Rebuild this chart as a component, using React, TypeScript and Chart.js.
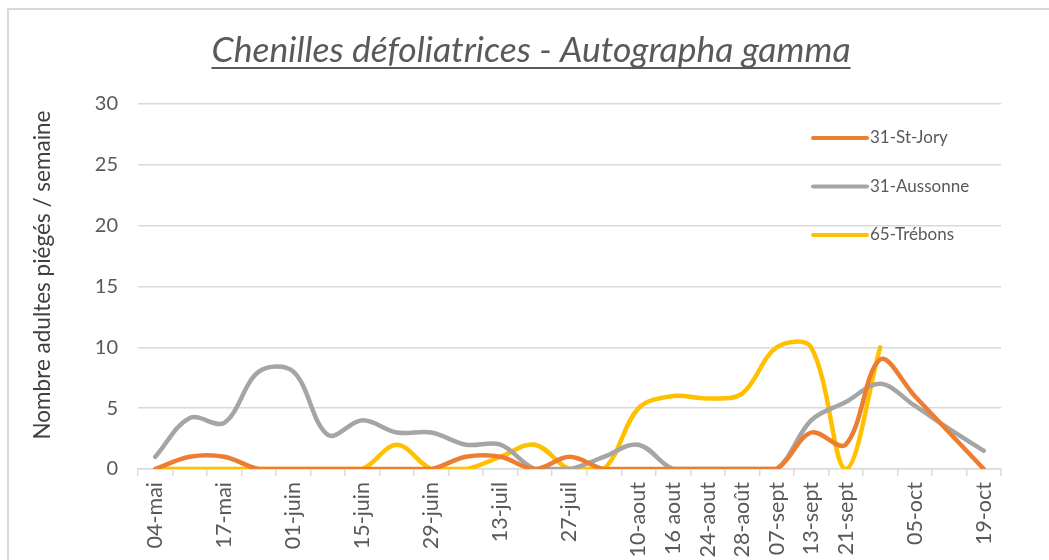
import { useEffect, useRef } from 'react';
import { Chart, registerables } from 'chart.js';

Chart.register(...registerables);

const categories = [
  '04-mai', '', '17-mai', '', '01-juin', '', '15-juin', '', '29-juin', '', '13-juil', '', '27-juil', '',
  '10-aout', '16 aout', '24-aout', '28-août', '07-sept', '13-sept', '21-sept', '', '05-oct', '', '19-oct',
];

const stJory = [0, 1, 1, 0, 0, 0, 0, 0, 0, 1, 1, 0, 1, 0, 0, 0, 0, 0, 0, 3, 2, 9, 6, 3, 0];
const aussonne = [1, 4.2, 3.8, 8, 8, 2.8, 4, 3, 3, 2, 2, 0, 0, 1, 2, 0, 0, 0, 0, 4, 5.5, 7, 5.2, 3.3, 1.5];
const trebons = [0, 0, 0, 0, 0, 0, 0, 2, 0, 0, 1, 2, 0, 0, 5, 6, 5.8, 6.2, 10, 10, 0, 10];

const seriesNames = ['31-St-Jory', '31-Aussonne', '65-Trébons'];
const seriesColors = ['#ED7D31', '#A5A5A5', '#FFC000'];

const titleText = 'Chenilles défoliatrices - Autographa gamma';
const yTitleText = 'Nombre adultes piégés / semaine';

const W = 1049;
const H = 560;

const decor = {
  id: 'decor',
  beforeDraw(chart: any) {
    const ctx = chart.ctx;
    ctx.save();
    ctx.fillStyle = '#ffffff';
    ctx.fillRect(0, 0, W, H);
    ctx.strokeStyle = '#d9d9d9';
    ctx.lineWidth = 2;
    ctx.beginPath();
    ctx.moveTo(8, H + 5);
    ctx.lineTo(8, 9);
    ctx.lineTo(W + 5, 9);
    ctx.stroke();
    ctx.restore();
  },
  afterDraw(chart: any) {
    const ctx = chart.ctx;
    const area = chart.chartArea;
    ctx.save();
    // title
    ctx.font = 'italic 35.5px Lato';
    ctx.fillStyle = '#595959';
    ctx.textAlign = 'center';
    ctx.textBaseline = 'alphabetic';
    const cx = 531;
    ctx.fillText(titleText, cx, 62);
    const tw = ctx.measureText(titleText).width;
    ctx.strokeStyle = '#595959';
    ctx.lineWidth = 2;
    ctx.beginPath();
    ctx.moveTo(cx - tw / 2, 68);
    ctx.lineTo(cx + tw / 2, 68);
    ctx.stroke();

    // y axis title
    ctx.save();
    ctx.translate(43, 275);
    ctx.rotate(-Math.PI / 2);
    ctx.font = '22.5px Lato';
    ctx.fillStyle = '#404040';
    ctx.textAlign = 'center';
    ctx.textBaseline = 'middle';
    ctx.fillText(yTitleText, 0, 0);
    ctx.restore();

    // legend
    const lx0 = area.right - 188;
    const lx1 = area.right - 134;
    const ys = [area.top + 34, area.top + 82.5, area.top + 131];
    ctx.font = '17px Lato';
    ctx.textAlign = 'left';
    ctx.textBaseline = 'middle';
    ctx.lineCap = 'round';
    for (let i = 0; i < seriesNames.length; i++) {
      ctx.strokeStyle = seriesColors[i];
      ctx.lineWidth = 4;
      ctx.beginPath();
      ctx.moveTo(lx0, ys[i]);
      ctx.lineTo(lx1, ys[i]);
      ctx.stroke();
      ctx.fillStyle = '#595959';
      ctx.fillText(seriesNames[i], lx1 + 3, ys[i]);
    }
    ctx.restore();
  },
};

export default function App() {
  const ref = useRef<HTMLCanvasElement | null>(null);

  useEffect(() => {
    if (!ref.current) return;
    Chart.defaults.font.family = 'Lato';
    const data = [stJory, aussonne, trebons];
    const chart = new Chart(ref.current, {
      type: 'line',
      data: {
        labels: categories,
        datasets: seriesNames.map((name, i) => ({
          label: name,
          data: data[i],
          borderColor: seriesColors[i],
          backgroundColor: seriesColors[i],
          borderWidth: 4.5,
          pointRadius: 0,
          tension: 0.35,
          fill: false,
          borderCapStyle: 'round' as const,
          borderJoinStyle: 'round' as const,
        })),
      },
      options: {
        responsive: false,
        animation: false,
        layout: { padding: { left: 0, top: 104, right: 48, bottom: 0 } },
        plugins: {
          legend: { display: false },
          title: { display: false },
          tooltip: { enabled: false },
        },
        scales: {
          x: {
            type: 'category',
            offset: true,
            afterFit: (s: any) => { s.height = 91; },
            grid: {
              offset: true,
              drawOnChartArea: false,
              drawTicks: true,
              tickLength: 7,
              color: '#d9d9d9',
              lineWidth: 1.5,
            },
            border: { display: true, color: '#d9d9d9', width: 1.5 },
            ticks: {
              autoSkip: false,
              maxRotation: 90,
              minRotation: 90,
              padding: 6,
              color: '#595959',
              font: { family: 'Lato', size: 21.5 },
            },
          },
          y: {
            min: 0,
            max: 30,
            afterFit: (s: any) => { s.width = 138; },
            ticks: {
              stepSize: 5,
              padding: 20,
              color: '#595959',
              font: { family: 'Lato', size: 20 },
            },
            grid: { color: '#d9d9d9', lineWidth: 1.5, drawTicks: false },
            border: { display: false },
          },
        },
      },
      plugins: [decor],
    });
    return () => chart.destroy();
  }, []);

  return (
    <canvas
      ref={ref}
      width={W}
      height={H}
      style={{ position: 'fixed', left: 0, top: 0, width: W, height: H }}
    />
  );
}
